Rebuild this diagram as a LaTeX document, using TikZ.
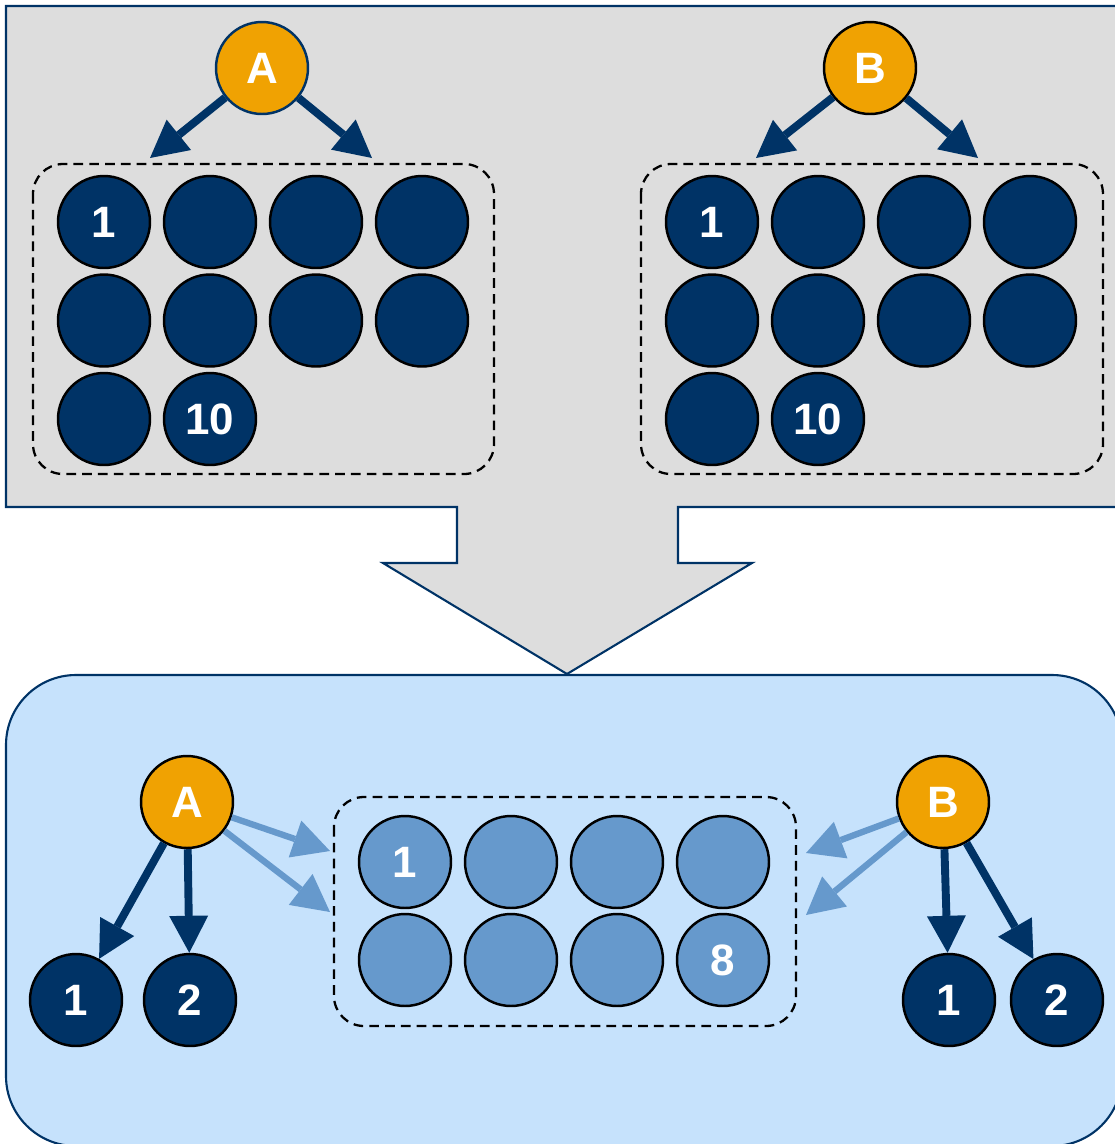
\documentclass[tikz,border=0pt]{standalone}
\usepackage{fontspec}
\setmainfont{Liberation Sans}
\usetikzlibrary{arrows.meta}
\definecolor{navy}{HTML}{003366}
\definecolor{amber}{HTML}{F0A202}
\definecolor{steel}{HTML}{6699CC}
\definecolor{panelgray}{HTML}{DDDDDD}
\definecolor{panelblue}{HTML}{C6E2FC}
\newcommand{\balltext}{\fontsize{25}{28}\selectfont\bfseries}
\tikzset{ball/.style={circle,fill=#1,draw=black,line width=1.4pt,minimum size=1.84cm,inner sep=0pt,text=white,font=\balltext},ball/.default=navy}
\tikzset{group/.style={draw=black,dash pattern=on 5.5pt off 3.5pt,line width=1.3pt,rounded corners=0.6cm}}
\tikzset{link/.style={draw=#1,line width=4.5pt,-{Triangle[length=0.74cm,width=0.78cm,line width=0pt,fill=#1]}},link/.default=navy}
\tikzset{panel/.style={draw=navy,fill=#1,line width=1.2pt},panel/.default=panelgray}

\begin{document}
\begin{tikzpicture}[x=0.02cm,y=-0.02cm]
		\useasboundingbox (0,0) rectangle (1115,1144);
		% panels
		\draw [panel=panelblue,rounded corners=1.4cm] (6,675) rectangle (1122,1146);
		\draw [panel] (6,6) -- (1125,6) -- (1125,507) -- (678,507) -- (678,563) --
			(752,563) -- (567,674) -- (383,563) -- (457,563) -- (457,507) -- (6,507) -- cycle;
		
		% top left
		\node [ball=amber,draw=navy] (tA) at (262,68) {A};
		\draw [group] (33,164) rectangle (494,474);
		\foreach \i in {1,...,10}
			\node [ball] (ta\i) at ({104+106*mod(\i-1,4)},{222+98.5*div(\i-1,4)}) {};
		\node at (ta1) [text=white,font=\balltext] {1};
		\node at (ta10) [text=white,font=\balltext] {10};
		\coordinate (tAl) at (150,158);
		\coordinate (tAr) at (372,158);
		\draw [link] (tA) -- (tAl);
		\draw [link] (tA) -- (tAr);
		
		% top right
		\node [ball=amber] (tB) at (870,68) {B};
		\draw [group] (641,164) rectangle (1103,474);
		\foreach \i in {1,...,10}
			\node [ball] (tb\i) at ({712+106*mod(\i-1,4)},{222+98.5*div(\i-1,4)}) {};
		\node at (tb1) [text=white,font=\balltext] {1};
		\node at (tb10) [text=white,font=\balltext] {10};
		\coordinate (tBl) at (756,158);
		\coordinate (tBr) at (978,158);
		\draw [link] (tB) -- (tBl);
		\draw [link] (tB) -- (tBr);
		
		% bottom
		\draw [group] (334,797) rectangle (796,1026);
		\foreach \i in {1,...,8}
			\node [ball=steel] (m\i) at ({405+106*mod(\i-1,4)},{862+98*div(\i-1,4)}) {};
		\node at (m1) [text=white,font=\balltext] {1};
		\node at (m8) [text=white,font=\balltext] {8};
		
		\node [ball=amber] (bA) at (187,802) {A};
		\node [ball] (al1) at (76,1000) {1};
		\node [ball] (al2) at (190,1000) {2};
		\node [ball=amber] (bB) at (943,802) {B};
		\node [ball] (bl1) at (949,1000) {1};
		\node [ball] (bl2) at (1057,1000) {2};
		\draw [link] (bA) -- (al1);
		\draw [link] (bA) -- (al2);
		\draw [link] (bB) -- (bl1);
		\draw [link] (bB) -- (bl2);
		
		\coordinate (mAt) at (330,851);
		\coordinate (mAb) at (330,912);
		\coordinate (mBt) at (806,853);
		\coordinate (mBb) at (806,915);
		\draw [link=steel,line width=3.6pt] (bA) -- (mAt);
		\draw [link=steel,line width=3.6pt] (bA) -- (mAb);
		\draw [link=steel,line width=3.6pt] (bB) -- (mBt);
		\draw [link=steel,line width=3.6pt] (bB) -- (mBb);
	\end{tikzpicture}
\end{document}
